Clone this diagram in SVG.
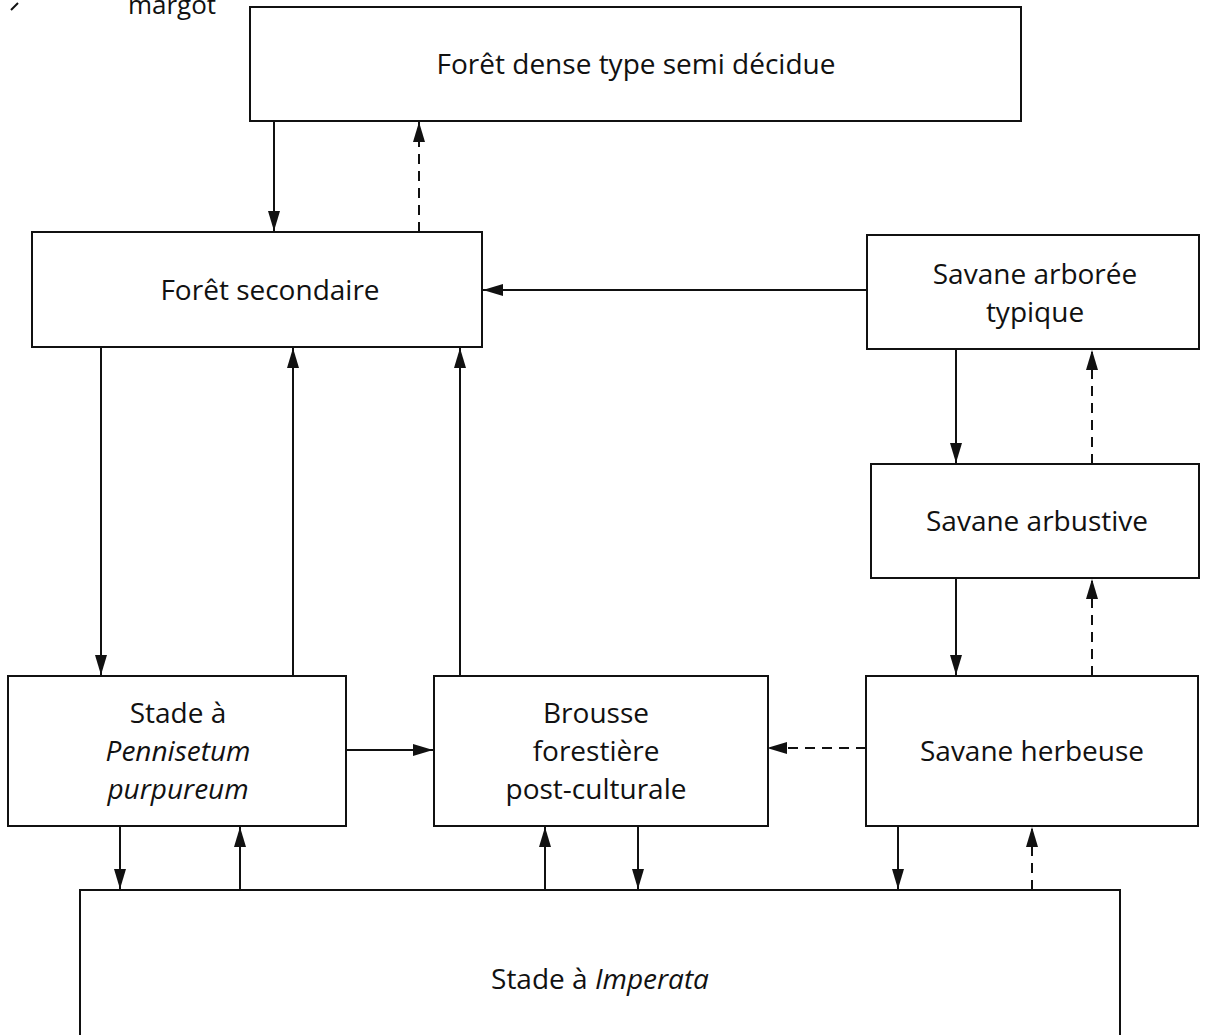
<svg xmlns="http://www.w3.org/2000/svg" width="1205" height="1035" viewBox="0 0 1205 1035">
<style>
.box{fill:#fff;stroke:#111;stroke-width:2}
.t{font-family:"Open Sans","Liberation Sans",sans-serif;font-size:28px;fill:#111;text-anchor:middle}
.c{stroke:#111;stroke-width:2;fill:none}
.d{stroke-dasharray:10 7}
</style>
<defs>
<marker id="ah" viewBox="0 0 20 12" refX="20" refY="6" markerWidth="20" markerHeight="12" markerUnits="userSpaceOnUse" orient="auto">
<path d="M0,0 L20,6 L0,12 Z" fill="#111"/>
</marker>
</defs>
<rect width="1205" height="1035" fill="#fff"/>
<text class="t" x="172" y="14" style="font-size:26px">margot</text>
<path d="M11,10 L18,3" stroke="#111" stroke-width="2"/>
<g id="connectors">
<path class="c" d="M274,121 V231" marker-end="url(#ah)"/>
<path class="c d" d="M419,232 V122" marker-end="url(#ah)"/>
<path class="c" d="M867,290 H483" marker-end="url(#ah)"/>
<path class="c" d="M956,349 V463" marker-end="url(#ah)"/>
<path class="c d" d="M1092,464 V350" marker-end="url(#ah)"/>
<path class="c" d="M956,578 V675" marker-end="url(#ah)"/>
<path class="c d" d="M1092,676 V579" marker-end="url(#ah)"/>
<path class="c" d="M101,347 V675" marker-end="url(#ah)"/>
<path class="c" d="M293,676 V348" marker-end="url(#ah)"/>
<path class="c" d="M460,676 V348" marker-end="url(#ah)"/>
<path class="c" d="M346,750 H433" marker-end="url(#ah)"/>
<path class="c d" d="M866,748 H767" marker-end="url(#ah)"/>
<path class="c" d="M120,826 V889" marker-end="url(#ah)"/>
<path class="c" d="M240,890 V827" marker-end="url(#ah)"/>
<path class="c" d="M545,890 V827" marker-end="url(#ah)"/>
<path class="c" d="M638,826 V889" marker-end="url(#ah)"/>
<path class="c" d="M898,826 V889" marker-end="url(#ah)"/>
<path class="c d" d="M1032,890 V827" marker-end="url(#ah)"/>
</g>
<g id="n-foret-dense">
<rect class="box" x="250" y="7" width="771" height="114"/>
<text class="t" x="636" y="74">Forêt dense type semi décidue</text>
</g>
<g id="n-foret-secondaire">
<rect class="box" x="32" y="232" width="450" height="115"/>
<text class="t" x="270" y="300">Forêt secondaire</text>
</g>
<g id="n-savane-arboree">
<rect class="box" x="867" y="235" width="332" height="114"/>
<text class="t" x="1035" y="284">Savane arborée</text>
<text class="t" x="1035" y="322">typique</text>
</g>
<g id="n-savane-arbustive">
<rect class="box" x="871" y="464" width="328" height="114"/>
<text class="t" x="1037" y="531">Savane arbustive</text>
</g>
<g id="n-pennisetum">
<rect class="box" x="8" y="676" width="338" height="150"/>
<text class="t" x="178" y="723">Stade à</text>
<text class="t" x="178" y="761" font-style="italic">Pennisetum</text>
<text class="t" x="178" y="799" font-style="italic">purpureum</text>
</g>
<g id="n-brousse">
<rect class="box" x="434" y="676" width="334" height="150"/>
<text class="t" x="596" y="723">Brousse</text>
<text class="t" x="596" y="761">forestière</text>
<text class="t" x="596" y="799">post-culturale</text>
</g>
<g id="n-savane-herbeuse">
<rect class="box" x="866" y="676" width="332" height="150"/>
<text class="t" x="1032" y="761">Savane herbeuse</text>
</g>
<g id="n-imperata">
<rect class="box" x="80" y="890" width="1040" height="160"/>
<text class="t" x="600" y="989">Stade à <tspan font-style="italic">Imperata</tspan></text>
</g>
</svg>
